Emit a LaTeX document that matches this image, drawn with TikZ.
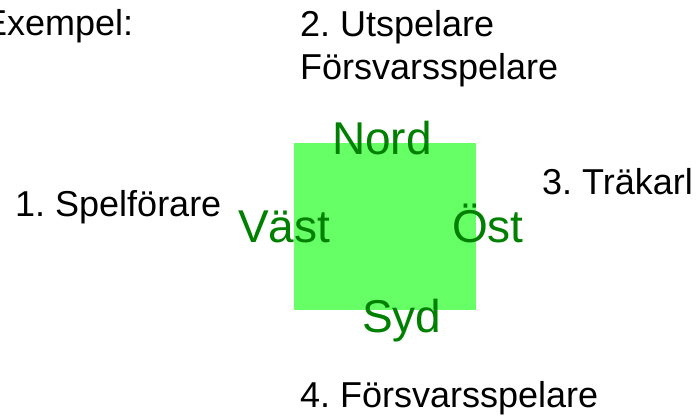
\documentclass[tikz,border=0pt]{standalone}
\usepackage{xcolor}
\usepackage{fontspec}
\setmainfont{Liberation Sans}
\usepackage{tikz}
\frenchspacing
\definecolor{fieldgreen}{HTML}{66FF66}
\definecolor{dirgreen}{HTML}{008000}
\tikzstyle{every node}=[inner sep=0pt, anchor=base west]
\tikzstyle{player}=[font=\fontsize{36}{43}\selectfont, text=black]
\tikzstyle{dir}=[font=\fontsize{46}{55}\selectfont, text=dirgreen]

\begin{document}
\begin{tikzpicture}
                \useasboundingbox (0pt, 0pt) rectangle (699pt, 418pt);
                \fill[fieldgreen] (294pt, 108pt) rectangle (476pt, 275pt);

                \node[player] (exempel) at (-17pt, 382pt) {Exempel:};
                \node[player] (utsp) at (300pt, 381pt) {2. Utspelare};
                \node[player] (forsv) at (300pt, 338pt) {Försvarsspelare};
                \node[player] (spelf) at (15pt, 201pt) {1. Spelförare};
                \node[player] (trak) at (542pt, 223pt) {3. Träkarl};
                \node[player] (forsv2) at (300pt, 11pt) {4. Försvarsspelare};

                \node[dir] (nord) at (332pt, 263pt) {Nord};
                \node[dir] (vast) at (238pt, 175pt) {Väst};
                \node[dir] (ost) at (452pt, 175pt) {Öst};
                \node[dir] (syd) at (362pt, 85pt) {Syd};
            \end{tikzpicture}
\end{document}
